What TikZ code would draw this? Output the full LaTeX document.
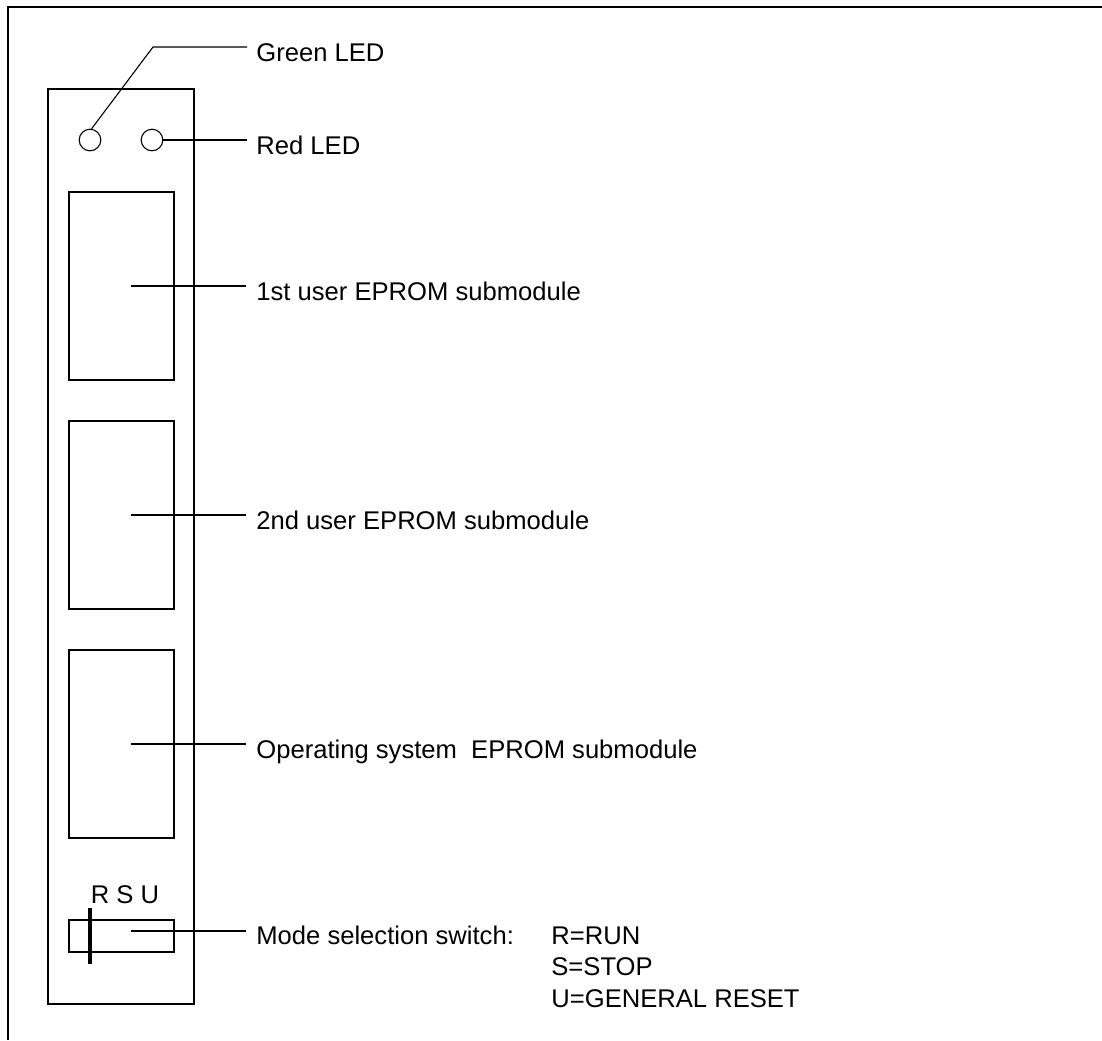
\documentclass[tikz,border=0pt]{standalone}
\usepackage{fontspec}
\setmainfont{Liberation Sans}

\begin{document}
\begin{tikzpicture}[
        x=.5pt, y=-.5pt,
        frame/.style={line width=1pt},
        part/.style={draw, line width=.55pt, inner sep=0pt},
        slot/.style={part, minimum width=52.5pt, minimum height=94pt},
        led/.style={part, circle, minimum size=10.8pt},
        leader/.style={line width=.55pt},
        lbl/.style={font=\fontsize{12.8}{15}\selectfont, inner sep=0pt, anchor=base west},
    ]
    \useasboundingbox (0,0) rectangle (1102,1040);

    %% outer frame, cut off on the right and at the bottom
    \draw[frame] (8,1040) -- (8,7) -- (1102,7);

    %% the front panel
    \node[part, minimum width=73pt, minimum height=457.5pt] (panel) at (121,546.5) {};

    %% status LEDs
    \node[led] (greenled) at (90,140) {};
    \node[led] (redled) at (152,140) {};
    \coordinate (greenbend) at (153,47);
    \coordinate (greenend) at (247,47);
    \coordinate (redend) at (247,140);
    \node[lbl] (greenlbl) at (256,61) {Green LED};
    \node[lbl] (redlbl) at (256,154) {Red LED};
    \draw[leader] (greenled.82) -- (greenbend) -- (greenend);
    \draw[leader] (redled.east) -- (redend);

    %% the three EPROM slots
    \foreach \yy/\nm/\txt in {286/first/1st user EPROM submodule,
            515/second/2nd user EPROM submodule,
            744/opsys/Operating system\ \ EPROM submodule}{
        \node[slot] (\nm) at (121.5,\yy) {};
        \coordinate (\nm from) at (131,\yy);
        \coordinate (\nm to) at (246,\yy);
        \node[lbl] (\nm lbl) at (256,\yy+14) {\txt};
        \draw[leader] (\nm from) -- (\nm to);
    }

    %% mode selection switch
    \node[part, minimum width=52.5pt, minimum height=16pt] (switch) at (121.5,936) {};
    \coordinate (bartop) at (90,908);
    \coordinate (barbot) at (90,964);
    \draw[line width=2pt] (bartop) -- (barbot);
    \node[lbl, anchor=base] (rsu) at (125,903) {R S U};
    \coordinate (switchfrom) at (131,931);
    \coordinate (switchto) at (246,931);
    \draw[leader] (switchfrom) -- (switchto);
    \node[lbl] (modelbl) at (256,944) {Mode selection switch:};
    \node[lbl] (runlbl) at (551,944) {R=RUN};
    \node[lbl] (stoplbl) at (551,975.5) {S=STOP};
    \node[lbl] (resetlbl) at (551,1007) {U=GENERAL RESET};
\end{tikzpicture}
\end{document}
